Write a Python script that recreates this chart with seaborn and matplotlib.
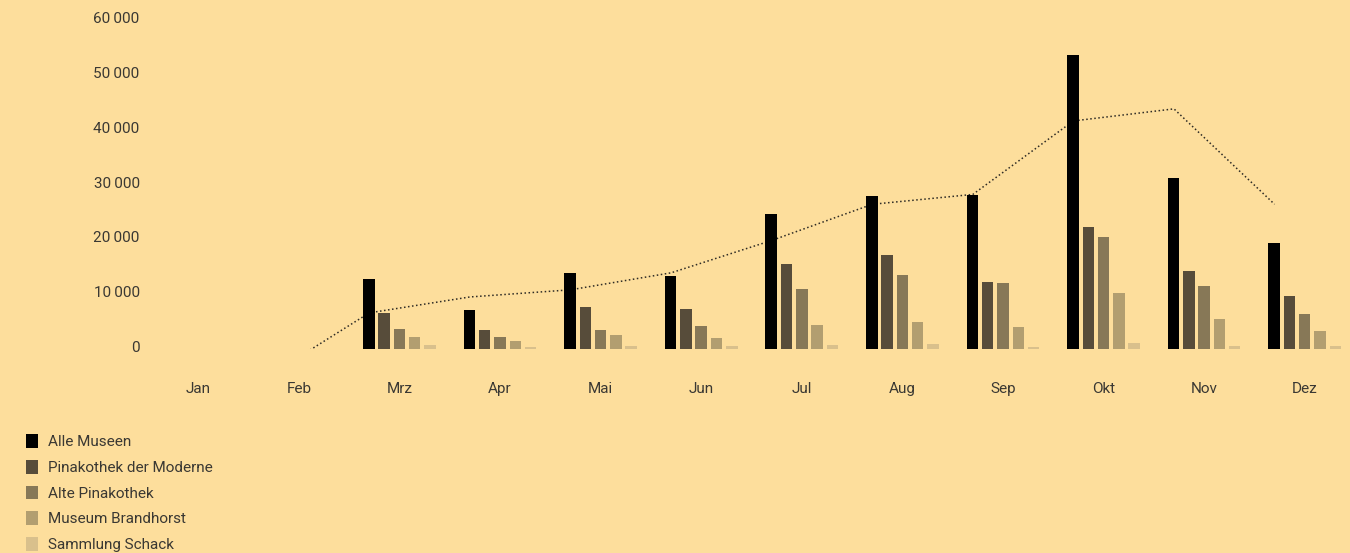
import numpy as np
import pandas as pd
import matplotlib
matplotlib.use("Agg")
import matplotlib.pyplot as plt
import matplotlib.transforms as mtransforms
import seaborn as sns
from matplotlib.patches import Patch
from matplotlib.ticker import FuncFormatter

# --- data -------------------------------------------------------------
months = ["Jan", "Feb", "Mrz", "Apr", "Mai", "Jun", "Jul", "Aug", "Sep", "Okt", "Nov", "Dez"]
bar_months = ["Mrz", "Apr", "Mai", "Jun", "Jul", "Aug", "Sep", "Okt", "Nov", "Dez"]
museums = ["Alle Museen", "Pinakothek der Moderne", "Alte Pinakothek",
           "Museum Brandhorst", "Sammlung Schack"]

alle_museen = [12600, 7000, 13700, 13200, 24500, 27800, 28000, 53500, 31100, 19200]
pinakothek_moderne = [6500, 3400, 7600, 7200, 15500, 17100, 12200, 22200, 14200, 9600]
alte_pinakothek = [3600, 2100, 3400, 4100, 10900, 13400, 12000, 20400, 11400, 6300]
museum_brandhorst = [2100, 1400, 2500, 2000, 4300, 4900, 3900, 10200, 5400, 3200]
sammlung_schack = [650, 300, 450, 400, 650, 800, 300, 1000, 450, 450]

# trend line, one value per month (Jan has none)
trend = [np.nan, -5000, 6500, 9400, 10700, 13800, 19700, 26300, 28100, 41500, 43700, 26300]

y_ticks = [0, 10000, 20000, 30000, 40000, 50000, 60000]

# --- style --------------------------------------------------------------
bg = "#FDDE9C"
text_color = "#3A3833"
palette = ["#000000", "#574C3A", "#877857", "#B29E70", "#D9C08C"]

sns.set_style("white")
plt.rcParams["font.family"] = ["Roboto", "DejaVu Sans"]

df = pd.DataFrame({
    "Monat": np.tile(bar_months, len(museums)),
    "Museum": np.repeat(museums, len(bar_months)),
    "Besucher": np.concatenate([alle_museen, pinakothek_moderne, alte_pinakothek,
                                museum_brandhorst, sammlung_schack]),
})

fig = plt.figure(figsize=(13.5, 5.53), dpi=100, facecolor=bg)
W, H = 1350, 553
left, right, top, bottom = 148, 1350, 19.5, 348.5
ax = fig.add_axes([left / W, 1 - bottom / H, (right - left) / W, (bottom - top) / H])
ax.set_facecolor(bg)

sns.barplot(data=df, x="Monat", y="Besucher", hue="Museum", order=months,
            hue_order=museums, palette=palette, width=0.76, gap=0.25,
            linewidth=0, saturation=1, legend=False, errorbar=None, ax=ax)

# dotted trend line, drawn behind the bars
trend_x = np.arange(len(months)) - 0.30
sns.lineplot(x=trend_x, y=trend, ax=ax, color="#2E2B25", linestyle=":",
             linewidth=1.1, zorder=0.5)

ax.set_xlim(-0.5, 11.45)
ax.set_ylim(0, 60000)
ax.set_yticks(y_ticks)
ax.yaxis.set_major_formatter(FuncFormatter(lambda v, _: f"{int(v):,}".replace(",", "\u2009")))
ax.set_xlabel("")
ax.set_ylabel("")
ax.tick_params(axis="both", length=0, labelsize=11, colors=text_color)
ax.tick_params(axis="x", pad=24)
ax.tick_params(axis="y", pad=6)
for s in ax.spines.values():
    s.set_visible(False)
ax.grid(False)

# nudge the value labels up a little
lift = mtransforms.ScaledTranslation(0, 2 / 100, fig.dpi_scale_trans)
for lbl in ax.get_yticklabels():
    lbl.set_transform(lbl.get_transform() + lift)

handles = [Patch(facecolor=c, edgecolor="none", label=m) for c, m in zip(palette, museums)]
fig.legend(handles=handles, loc="upper left", bbox_to_anchor=(20 / W, 1 - 428 / H),
           frameon=False, fontsize=11, labelcolor=text_color, handlelength=0.75,
           handleheight=1.0, handletextpad=0.7, labelspacing=0.7, borderaxespad=0)

fig.savefig("out.png", dpi=100, facecolor=bg)
